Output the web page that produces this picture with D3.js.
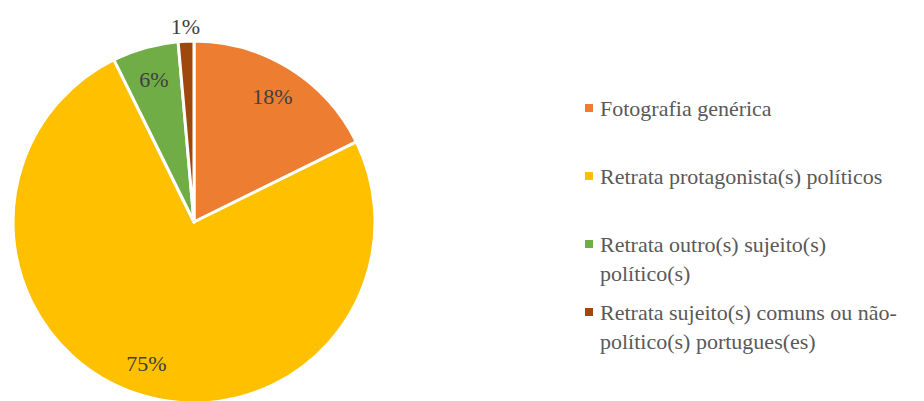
<!DOCTYPE html>
<html lang="pt">
<head>
<meta charset="utf-8">
<script src="https://cdn.jsdelivr.net/npm/d3@7"></script>
<style>
  body { margin: 0; background: #fff; }
</style>
</head>
<body>
<div id="chart"></div>
<script>
// values (percent)
let categories = [
    'Fotografia genérica',
    'Retrata protagonista(s) políticos',
    'Retrata outro(s) sujeito(s) político(s)',
    'Retrata sujeito(s) comuns ou não-político(s) portugues(es)'
];
let values = [17.7, 75.0, 5.9, 1.4];
let labels = ['18%', '75%', '6%', '1%'];
let colors = ['#ED7D31', '#FFC000', '#70AD47', '#9E480E'];

let W = 924, H = 401;
let cx = 194, cy = 222, radius = 181;
let serifFont = 'Tinos, "Liberation Serif", "Times New Roman", serif';

let svg = d3.select('#chart')
    .append('svg')
    .attr('width', W)
    .attr('height', H);

let data = categories.map((c, i) => ({name: c, value: values[i], label: labels[i], color: colors[i]}));

let pie = d3.pie().value(d => d.value).sort(null);
let arcs = pie(data);
let arc = d3.arc().innerRadius(0).outerRadius(radius);
let labelArc = d3.arc().innerRadius(radius * 0.82).outerRadius(radius * 0.82);
let outerArc = d3.arc().innerRadius(radius + 15).outerRadius(radius + 15);

svg.append('g')
    .attr('transform', `translate(${cx},${cy})`)
    .selectAll('path')
    .data(arcs)
    .enter()
    .append('path')
    .attr('d', arc)
    .attr('fill', d => d.data.color)
    .attr('stroke', '#fff')
    .attr('stroke-width', 3)
    .attr('stroke-linejoin', 'round');

// small slices get their label outside
function labelPos(d) {
    let small = d.endAngle - d.startAngle < 0.2;
    return small ? outerArc.centroid(d) : labelArc.centroid(d);
}

svg.selectAll('text.lbl')
    .data(arcs)
    .enter()
    .append('text')
    .attr('class', 'lbl')
    .attr('x', d => cx + labelPos(d)[0])
    .attr('y', d => cy + labelPos(d)[1] + 8)
    .attr('text-anchor', 'middle')
    .attr('font-size', 22)
    .style('font-family', serifFont)
    .attr('fill', '#404040')
    .text(d => d.data.label);

// legend
let legendX = 585, textX = 600, maxChars = 33, lineH = 28.5;
let ly = d3.scaleBand().domain(categories).range([116 - 34, 116 - 34 + 68 * 4]);

function wrap(str) {
    // break on spaces and after hyphens
    let parts = str.match(/[^\s-]+-?/g);
    let lines = [], cur = '';
    parts.forEach(p => {
        let sep = cur === '' || cur.endsWith('-') ? '' : ' ';
        let test = cur + sep + p;
        if (test.length > maxChars && cur !== '') {
            lines.push(cur);
            cur = p;
        } else {
            cur = test;
        }
    });
    if (cur) lines.push(cur);
    return lines;
}

svg.selectAll('rect.key')
    .data(data)
    .enter()
    .append('rect')
    .attr('class', 'key')
    .attr('x', legendX)
    .attr('y', d => ly(d.name) + 34 - 12)
    .attr('width', 8)
    .attr('height', 8)
    .attr('fill', d => d.color);

let legendLines = [];
data.forEach(d => {
    wrap(d.name).forEach((line, i) => {
        legendLines.push({text: line, y: ly(d.name) + 34 + i * lineH});
    });
});

svg.selectAll('text.leg')
    .data(legendLines)
    .enter()
    .append('text')
    .attr('class', 'leg')
    .attr('x', textX)
    .attr('y', d => d.y)
    .attr('font-size', 22)
    .style('font-family', serifFont)
    .attr('fill', '#595959')
    .text(d => d.text);
</script>
</body>
</html>
